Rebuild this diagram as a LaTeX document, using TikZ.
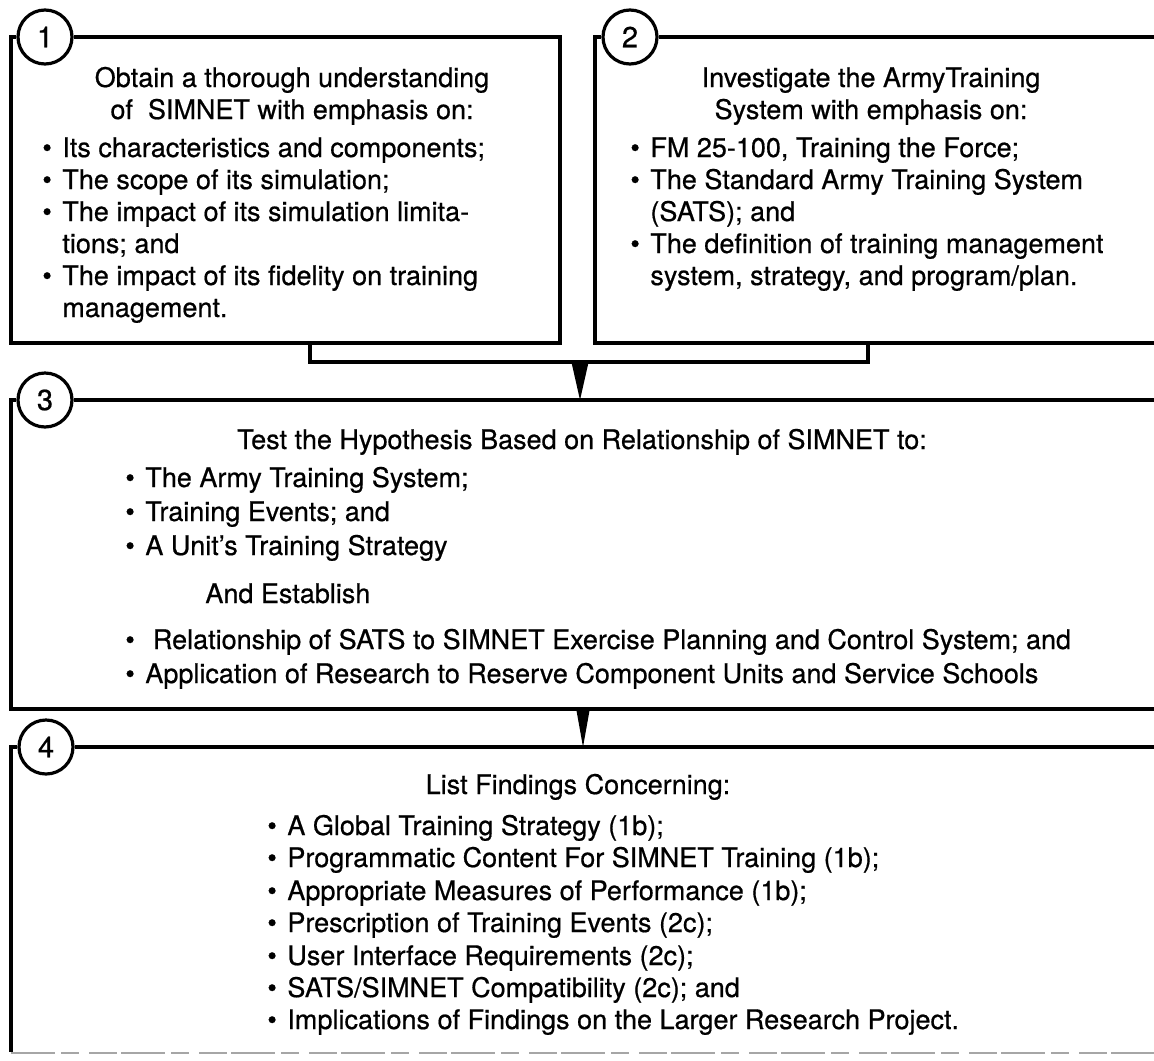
\documentclass[tikz,border=0pt]{standalone}
\usepackage{fontspec}
\setmainfont[FakeBold=0.6]{TeX Gyre Heros}
\newcommand{\bl}{\makebox[10pt][l]{\textbullet}}
\begin{document}
\begin{tikzpicture}[x=0.5pt,y=-0.5pt,
  frame/.style={line width=1.6pt,line join=miter},
  num/.style={circle,draw,line width=1.6pt,minimum size=27pt,inner sep=0pt,fill=white,font=\fontsize{14.5}{16}\selectfont},
  tl/.style={anchor=base west,inner sep=0pt,font=\fontsize{13.5}{16}\selectfont},
  tc/.style={anchor=base,inner sep=0pt,font=\fontsize{13.5}{16}\selectfont},
  faint/.style={draw=black!35,line width=1.2pt,dash pattern=on 22pt off 3pt on 9pt off 5pt on 14pt off 2pt}]

\useasboundingbox (0,0) rectangle (1154,1060);
\clip (0,0) rectangle (1154,1060);
\fill[white] (0,0) rectangle (1154,1060);

% ---------- box 1 ----------
\node[num] (n1) at (45,37) {1};
\draw[frame] (n1.east) -- (560,37) -- (560,343) -- (11,343) -- (11,37) -- (n1.west);
\node[tc] (h1a) at (292,87) {Obtain a thorough understanding};
\node[tc] (h1b) at (292,119) {of\ \ SIMNET with emphasis on:};
\node[tl] (l1a) at (42,157) {\bl Its characteristics and components;};
\node[tl] (l1b) at (42,189) {\bl The scope of its simulation;};
\node[tl] (l1c) at (42,221) {\bl The impact of its simulation limita-};
\node[tl] (l1d) at (62,253) {tions; and};
\node[tl] (l1e) at (42,285) {\bl The impact of its fidelity on training};
\node[tl] (l1f) at (62,317) {management.};

% ---------- box 2 ----------
\node[num] (n2) at (630,37) {2};
\draw[frame] (n2.east) -- (1170,37);
\draw[frame] (n2.west) -- (595,37) -- (595,343) -- (1170,343);
\node[tc] (h2a) at (871,87) {Investigate the ArmyTraining};
\node[tc] (h2b) at (871,119) {System with emphasis on:};
\node[tl] (l2a) at (630,157) {\bl FM 25-100, Training the Force;};
\node[tl] (l2b) at (630,189) {\bl The Standard Army Training System};
\node[tl] (l2c) at (650,221) {(SATS); and};
\node[tl] (l2d) at (630,253) {\bl The definition of training management};
\node[tl] (l2e) at (650,285) {system, strategy, and program/plan.};

% ---------- connector 1,2 -> 3 ----------
\coordinate (s1) at (310,343);
\coordinate (s2) at (868,343);
\coordinate (j1) at (580,362);
\coordinate (t3) at (580,400);
\draw[frame] (s1) -- (s1 |- j1) -- (s2 |- j1) -- (s2);
\fill ([xshift=-4.3pt]j1) -- ([xshift=4.3pt]j1) -- (t3) -- cycle;

% ---------- box 3 ----------
\node[num] (n3) at (45,400) {3};
\draw[frame] (n3.east) -- (1170,400);
\draw[frame] (n3.west) -- (11,400) -- (11,709) -- (1170,709);
\node[tc] (h3a) at (582,449) {Test the Hypothesis Based on Relationship of SIMNET to:};
\node[tl] (l3a) at (125,487) {\bl The Army Training System;};
\node[tl] (l3b) at (125,521) {\bl Training Events; and};
\node[tl] (l3c) at (125,555) {\bl A Unit’s Training Strategy};
\node[tl] (h3b) at (205,603) {And Establish};
\node[tl] (l3d) at (125,649) {\bl\ Relationship of SATS to SIMNET Exercise Planning and Control System; and};
\node[tl] (l3e) at (125,683) {\bl Application of Research to Reserve Component Units and Service Schools};

% ---------- connector 3 -> 4 ----------
\coordinate (j2) at (583,709);
\coordinate (t4) at (583,747);
\fill ([xshift=-3.4pt]j2) -- ([xshift=3.4pt]j2) -- (t4) -- cycle;

% ---------- box 4 ----------
\node[num] (n4) at (46,747) {4};
\draw[frame] (n4.east) -- (1170,747);
\draw[frame] (n4.west) -- (11,747) -- (11,1052);
\draw[faint] (11,1053) -- (1170,1053);
\node[tc] (h4a) at (578,794) {List Findings Concerning:};
\node[tl] (l4a) at (267,835) {\bl A Global Training Strategy (1b);};
\node[tl] (l4b) at (267,867) {\bl Programmatic Content For SIMNET Training (1b);};
\node[tl] (l4c) at (267,900) {\bl Appropriate Measures of Performance (1b);};
\node[tl] (l4d) at (267,932) {\bl Prescription of Training Events (2c);};
\node[tl] (l4e) at (267,965) {\bl User Interface Requirements (2c);};
\node[tl] (l4f) at (267,997) {\bl SATS/SIMNET Compatibility (2c); and};
\node[tl] (l4g) at (267,1029) {\bl Implications of Findings on the Larger Research Project.};
\end{tikzpicture}
\end{document}
